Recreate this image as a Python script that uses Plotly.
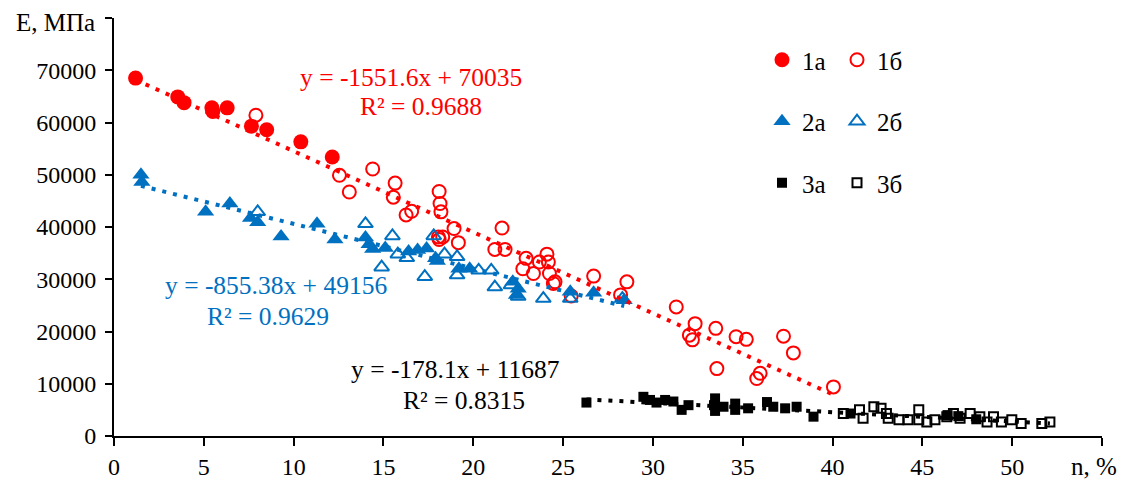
import numpy as np
import plotly.graph_objects as go

# ---------------- data ----------------
x_1a = [1.2, 3.55, 3.9, 5.45, 5.5, 6.3, 7.65, 8.5, 10.4, 12.15]
y_1a = [68500, 64900, 63800, 62800, 62100, 62800, 59300, 58600, 56300, 53400]

x_1b = [7.9, 12.55, 13.1, 14.4, 15.65, 15.55, 16.26, 16.57, 18.1, 18.15, 18.2, 18.06, 18.3,
        18.1, 18.93, 19.17, 21.6, 21.2, 21.77, 22.94, 22.76, 23.68, 24.1, 24.18, 23.35, 24.24,
        24.55, 24.46, 25.45, 26.7, 28.2, 28.55, 31.3, 32.35, 32.03, 32.2, 33.5, 33.56, 34.63,
        35.2, 37.27, 37.82, 35.97, 35.78, 40.05]
y_1b = [61400, 49900, 46700, 51100, 48400, 45700, 42300, 43000, 46800, 44500, 42900, 38100, 38100,
        37600, 39700, 37000, 39800, 35700, 35700, 34000, 32000, 33300, 34800, 33300, 31100, 31100,
        29500, 29200, 26800, 30600, 27000, 29500, 24700, 21500, 19300, 18400, 20600, 12900, 19000,
        18500, 19100, 15900, 12000, 11000, 9400]

x_2a = [1.5, 1.55, 5.1, 6.45, 7.6, 8.0, 9.3, 11.3, 12.3, 14.0, 14.2, 14.4, 15.1, 16.4, 16.9,
        17.4, 17.9, 18.0, 19.2, 19.8, 22.2, 22.5, 22.4, 25.4, 26.7, 28.4]
y_2a = [50000, 48600, 42900, 44500, 41700, 40900, 38200, 40600, 37600, 38000, 36700, 35800, 36000,
        35300, 35600, 35900, 34000, 33500, 32000, 32000, 29500, 28200, 27000, 27600, 27400, 26000]

x_2b = [8.0, 14.0, 15.5, 14.9, 15.8, 16.3, 17.3, 17.8, 18.4, 19.1, 19.1, 20.3, 21.0, 21.2, 22.1,
        22.5, 23.9, 25.4, 28.3]
y_2b = [42900, 40600, 38300, 32300, 34800, 34100, 30500, 38300, 34800, 34300, 30800, 31700, 31700,
        28500, 28900, 26700, 26300, 26300, 26300]

x_3a = [26.3, 29.47, 29.84, 30.2, 30.68, 31.14, 31.6, 31.98, 33.46, 33.4, 33.46, 33.93, 34.58,
        34.58, 35.3, 36.35, 36.7, 37.36, 38.0, 38.94, 41.0, 46.4, 47.0, 48.0]
y_3a = [6400, 7500, 6900, 6400, 6900, 6600, 5000, 5900, 7200, 5900, 4800, 5600, 5000,
        6200, 5300, 6500, 5600, 5300, 5600, 3700, 4300, 4000, 3800, 3200]

x_3b = [40.6, 41.5, 41.7, 42.3, 42.7, 43.0, 43.1, 43.7, 44.2, 44.8, 44.8, 45.25, 45.7, 46.36,
        46.73, 47.1, 47.66, 48.2, 48.6, 48.96, 49.4, 49.98, 50.5, 51.65, 52.1]
y_3b = [4300, 5000, 3400, 5600, 5300, 4300, 3400, 3100, 3100, 3100, 5000, 2700, 3100, 3700,
        4300, 3400, 4300, 3700, 2700, 3700, 2700, 3100, 2400, 2400, 2700]

trend_slope = [-1551.6, -855.38, -178.1]
trend_icpt = [70035, 49156, 11687]
trend_eq = ["y = -1551.6x + 70035", "y = -855.38x + 49156", "y = -178.1x + 11687"]
trend_r2 = ["R² = 0.9688", "R² = 0.9629", "R² = 0.8315"]

x_ticks = [0, 5, 10, 15, 20, 25, 30, 35, 40, 45, 50, 55]
x_ticktext = ["0", "5", "10", "15", "20", "25", "30", "35", "40", "45", "50", ""]
y_ticks = [0, 10000, 20000, 30000, 40000, 50000, 60000, 70000, 80000]
y_ticktext = ["0", "10000", "20000", "30000", "40000", "50000", "60000", "70000", ""]

RED = "#FF0000"
BLUE = "#0070C0"
BLACK = "#000000"
FONT = "Liberation Serif"

fig = go.Figure()

def pts(x, y, name, symbol, color, size, legend, group, lw=0):
    fig.add_trace(go.Scatter(
        x=x, y=y, mode="markers", name=name, legend=legend, legendgroup=group,
        marker=dict(symbol=symbol, color=color, size=size,
                    line=dict(color=color, width=lw)),
    ))

pts(x_1a, y_1a, "1а", "circle", RED, 15, "legend", "g1")
pts(x_1b, y_1b, "1б", "circle-open", RED, 13, "legend2", "h1", 2)
pts(x_2a, y_2a, "2а", "triangle-up", BLUE, 15, "legend", "g2")
pts(x_2b, y_2b, "2б", "triangle-up-open", BLUE, 13, "legend2", "h2", 2)
pts(x_3a, y_3a, "3а", "square", BLACK, 10, "legend", "g3")
pts(x_3b, y_3b, "3б", "square-open", BLACK, 9, "legend2", "h3", 2)

groups = [(x_1a + x_1b, RED), (x_2a + x_2b, BLUE), (x_3a + x_3b, BLACK)]
for (xs, col), k, b in zip(groups, trend_slope, trend_icpt):
    xx = np.array([min(xs), max(xs)])
    fig.add_trace(go.Scatter(
        x=xx, y=k * xx + b, mode="lines", showlegend=False, hoverinfo="skip",
        line=dict(color=col, width=4, dash="4px,7px"),
    ))

# equation annotations (pixel positions converted to paper coords)
W, H = 1121, 484
L, R, T, B = 114, 19, 18, 48
pw, ph = W - L - R, H - T - B

def px2paper(px, py):
    return (px - L) / pw, (H - B - py) / ph

def label(px, py, txt, col, size):
    ax, ay = px2paper(px, py)
    fig.add_annotation(x=ax, y=ay, xref="paper", yref="paper", text=txt,
                       xanchor="center", yanchor="middle", showarrow=False,
                       font=dict(family=FONT, size=size, color=col))

eq_pos = [((411, 77), (421, 107), RED),
          ((276, 285), (268, 316), BLUE),
          ((455, 369), (464, 400), BLACK)]
for (p1, p2, col), eq, r2 in zip(eq_pos, trend_eq, trend_r2):
    label(p1[0], p1[1], eq, col, 25.5)
    label(p2[0], p2[1], r2, col, 25.5)

label(1094, 466, "n, %", BLACK, 25)
label(55, 22, "E, МПа", BLACK, 25)

legend_common = dict(font=dict(family=FONT, size=25, color=BLACK), bgcolor="rgba(0,0,0,0)",
                     tracegroupgap=26, yanchor="top", xanchor="left", itemsizing="trace")
lx1, ly = px2paper(762, 37)
lx2, _ = px2paper(837, 37)

fig.update_layout(
    width=W, height=H,
    margin=dict(l=L, r=R, t=T, b=B, autoexpand=False),
    paper_bgcolor="white", plot_bgcolor="white",
    font=dict(family=FONT, size=24, color=BLACK),
    legend=dict(x=lx1, y=ly, **legend_common),
    legend2=dict(x=lx2, y=ly, **legend_common),
    xaxis=dict(range=[0, 55], tickvals=x_ticks, ticktext=x_ticktext, showgrid=False,
               zeroline=False, showline=True, linecolor=BLACK, linewidth=2,
               ticks="outside", ticklen=8, tickwidth=2, tickcolor=BLACK, automargin=False,
               tickfont=dict(family=FONT, size=24, color=BLACK)),
    yaxis=dict(range=[0, 80000], tickvals=y_ticks, ticktext=y_ticktext, showgrid=False,
               zeroline=False, showline=True, linecolor=BLACK, linewidth=2,
               ticks="outside", ticklen=7, tickwidth=2, tickcolor=BLACK, automargin=False,
               ticklabelstandoff=4,
               tickfont=dict(family=FONT, size=24, color=BLACK)),
)

fig.write_html("out.html")
